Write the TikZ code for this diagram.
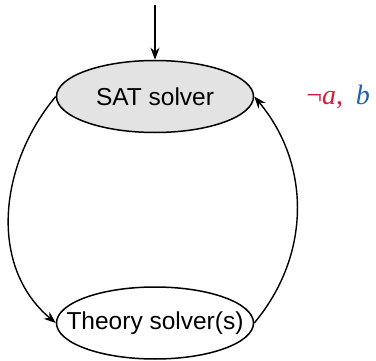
\documentclass[tikz,border=0pt]{standalone}
\usepackage{fontspec}
\setmainfont{Liberation Sans}
\newfontfamily\litfont{Liberation Serif}
\usetikzlibrary{positioning,arrows.meta,shapes.geometric}
\definecolor{negred}{HTML}{D41C3C}
\definecolor{posblue}{HTML}{1F5FAF}

\begin{document}
\begin{tikzpicture}[
	x=1pt, y=1pt,
	font=\fontsize{24.5}{29}\selectfont,
	node distance=153pt,
	solver/.style={
		draw,
		ellipse,
		line width=1.5pt,
		inner xsep=-20pt,
		inner ysep=0pt,
		minimum height=72pt,
		minimum width=197pt,
		align=center,
	},
	arr/.style={-{Stealth[length=12pt,width=9pt]}, line width=1.4pt},
]
\useasboundingbox (0,0) rectangle (376,360);

% Solvers
\node[solver, fill=black!11] (sat) at (155,263.5) {SAT solver};
\node[solver, below=of sat] (theory) {Theory solver(s)};

% Literals passed back to the SAT solver
\node[right=52pt of sat, inner sep=0pt, font=\fontsize{28}{32}\litfont] (lits)
	{{\color{negred}¬\textit{a},}\hspace{0.45em}{\color{posblue}\textit{b}}};

% Input from above
\coordinate[above=55pt of sat] (input);
\draw[arr] (input) -- (sat);

% Loop between the solvers
\draw[arr] (sat.west) to[out=-130, in=140] (theory.west);
\draw[arr] (theory.east) to[out=50, in=-50] (sat.east);

\end{tikzpicture}
\end{document}
